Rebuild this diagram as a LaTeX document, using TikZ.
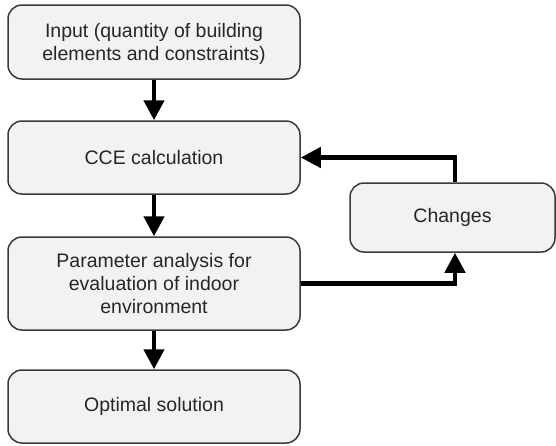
\documentclass[tikz,border=0pt]{standalone}
\usepackage{fontspec}
\setmainfont{Liberation Sans}
\usetikzlibrary{arrows.meta}
\definecolor{boxfill}{HTML}{F2F2F2}
\definecolor{boxline}{HTML}{3A3A3A}
\definecolor{boxtext}{HTML}{262626}

\begin{document}
\begin{tikzpicture}[x=1pt,y=-1pt,
  stage/.style={draw=boxline, line width=1.5pt, fill=boxfill, rounded corners=14pt,
    minimum width=292pt, align=center, text=boxtext, inner sep=0pt,
    font=\fontsize{19.5}{23}\selectfont},
  flow/.style={line width=4.5pt, -{Triangle[length=20pt,width=20pt]}}]

% definitions
\useasboundingbox (0,0) rectangle (556,445);

% drawing
\node[stage, minimum height=74pt, text depth=-8pt] (input) at (154,42) {Input (quantity of building\\elements and constraints)};
\node[stage, minimum height=73pt] (cce) at (154,157.5) {CCE calculation};
\node[stage, minimum height=93pt] (param) at (154,283.5) {Parameter analysis for\\evaluation of indoor\\environment};
\node[stage, minimum height=73pt] (optimal) at (154,406.5) {Optimal solution};
\node[stage, minimum width=205pt, minimum height=69pt] (changes) at (452.5,217.5) {Changes};

% connectors
\draw[flow] (input) -- (cce);
\draw[flow] (cce) -- (param);
\draw[flow] (param) -- (optimal);
\draw[flow] ([xshift=2.5pt]changes.north) |- (cce.east);
\draw[flow] (param.east) -| ([xshift=2.5pt]changes.south);
\end{tikzpicture}
\end{document}
